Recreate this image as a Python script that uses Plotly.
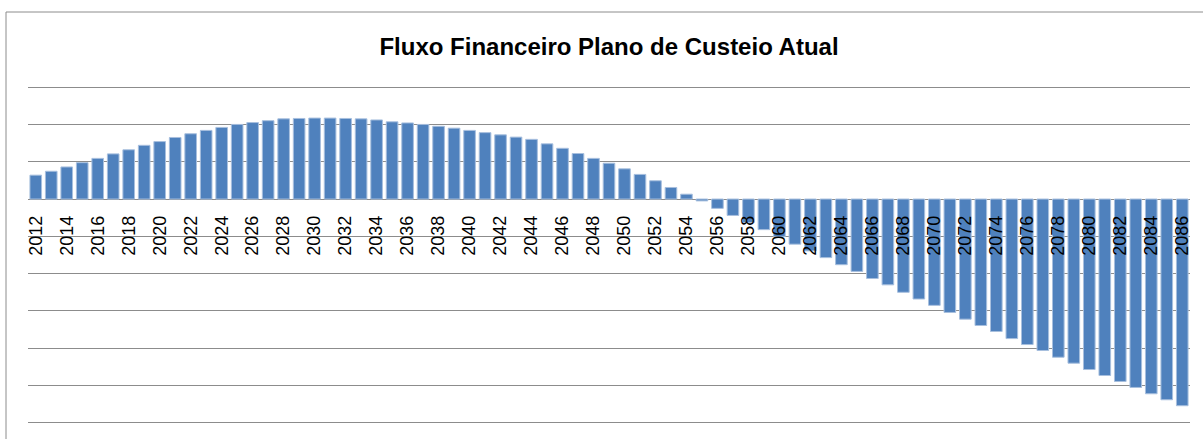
import plotly.graph_objects as go

years = list(range(2012, 2087))
values = [
    0.64, 0.745, 0.86, 0.975, 1.09, 1.21, 1.32, 1.44, 1.54, 1.65,
    1.75, 1.84, 1.92, 2.00, 2.05, 2.10, 2.15, 2.16, 2.17, 2.17,
    2.16, 2.15, 2.12, 2.07, 2.04, 2.00, 1.95, 1.90, 1.84, 1.78,
    1.72, 1.66, 1.60, 1.48, 1.36, 1.22, 1.09, 0.96, 0.81, 0.66,
    0.49, 0.31, 0.13, -0.05, -0.25, -0.44, -0.63, -0.82, -1.01, -1.21,
    -1.39, -1.57, -1.76, -1.94, -2.13, -2.30, -2.50, -2.68, -2.85, -3.04,
    -3.22, -3.39, -3.55, -3.74, -3.90, -4.06, -4.24, -4.40, -4.57, -4.73,
    -4.89, -5.05, -5.22, -5.38, -5.54,
]
tick_years = [y for y in years if y % 2 == 0]
tick_labels = [str(y) for y in tick_years]
title_text = "Fluxo Financeiro Plano de Custeio Atual"

W, H = 1203, 439
ml, mr, mt, mb = 28, 13, 86, 15
pw = W - ml - mr
ph = H - mt - mb

def px_x(px):
    return (px - ml) / pw

def px_y(py):
    return (H - mb - py) / ph

ymin, ymax = -6, 3
pad = 0.03

fig = go.Figure()
fig.add_trace(go.Bar(
    x=years, y=values, width=0.75,
    marker=dict(color="#4F81BD", line=dict(color="#A7BFDE", width=1)),
    showlegend=False,
))

fig.update_layout(
    width=W, height=H,
    margin=dict(l=ml, r=mr, t=mt, b=mb, autoexpand=False),
    paper_bgcolor="white", plot_bgcolor="white",
    title=dict(text="<b>" + title_text + "</b>", x=0.5, xref="paper",
               y=1 - 47 / H, yref="container", yanchor="middle", xanchor="center",
               font=dict(family="Liberation Sans", size=24, color="black")),
    xaxis=dict(
        range=[2011.5, 2086.5], tickmode="array", tickvals=tick_years, ticktext=tick_labels,
        tickangle=-90, showgrid=False, showline=False, zeroline=False,
        anchor="free", position=(0 - (ymin - pad)) / ((ymax + pad) - (ymin - pad)), side="bottom",
        ticks="", ticklabelstandoff=12, automargin=False,
        tickfont=dict(family="Liberation Sans", size=18, color="black"),
    ),
    yaxis=dict(
        range=[ymin - pad, ymax + pad], dtick=1, tick0=0, showticklabels=False, automargin=False,
        showgrid=True, gridcolor="#8C8C8C", gridwidth=1,
        zeroline=True, zerolinecolor="#8C8C8C", zerolinewidth=1, showline=False,
    ),
    bargap=0.25,
    shapes=[dict(type="rect", xref="paper", yref="paper",
                 x0=px_x(6), x1=px_x(1215), y0=px_y(450), y1=px_y(12),
                 line=dict(color="#8C8C8C", width=1), fillcolor="rgba(0,0,0,0)",
                 layer="below")],
)

fig.write_html("out.html", config={"displayModeBar": False},
               post_script="document.body.style.margin='0';")
